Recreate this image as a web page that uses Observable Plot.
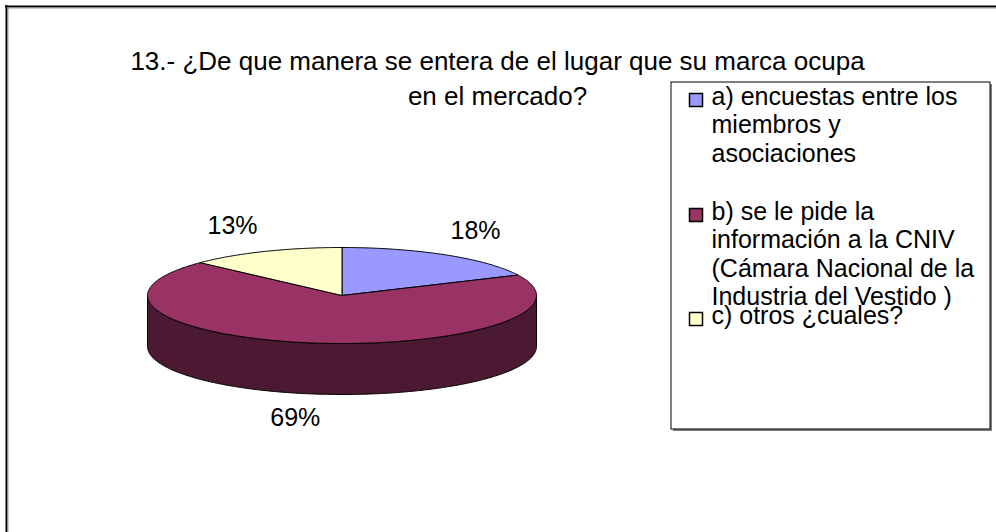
<!DOCTYPE html>
<html>
<head>
<meta charset="utf-8">
<script src="https://cdn.jsdelivr.net/npm/d3@7"></script>
<script src="https://cdn.jsdelivr.net/npm/@observablehq/plot@0.6"></script>
<style>
  html, body { margin: 0; padding: 0; background: #fff; }
</style>
</head>
<body>
<div id="chart"></div>
<script>
// ---- data ----
const titleLines = ["13.- ¿De que manera se entera de el lugar que su marca ocupa", "en el mercado?"];
const categories = ["a", "b", "c"];
const legendLabels = [
  "a) encuestas entre los\nmiembros y\nasociaciones",
  "b) se le pide la\ninformación a la CNIV\n(Cámara Nacional de la\nIndustria del Vestido )",
  "c) otros ¿cuales?"
];
const values = [18, 69, 13];
const valueLabels = ["18%", "69%", "13%"];
const topColors = ["#9999FF", "#993366", "#FFFFCC"];
const sideColors = ["#4D4D80", "#4B1932", "#808066"];

// ---- layout ----
const W = 996, H = 532;
const cx = 341.5, cy = 295, rx = 194.5, ry = 48, depth = 51;
const labRx = rx + 66, labRy = ry + 28, labDx = -6, labFrontDrop = 47;
const legendTops = [84, 199, 303];
const FONT = "'Liberation Sans', Arial, sans-serif";

const arcs = d3.pie().sort(null).value(d => d)(values);
const px = a => cx + rx * Math.sin(a);
const py = a => cy - ry * Math.cos(a);

function arcPoints(a0, a1, dy) {
  const n = Math.max(2, Math.ceil(Math.abs(a1 - a0) / 0.01));
  const pts = [];
  for (let k = 0; k <= n; k++) {
    const a = a0 + (a1 - a0) * k / n;
    pts.push({x: px(a), y: py(a) + dy});
  }
  return pts;
}

const marks = [];

// chart-area frame (top and left edges visible)
marks.push(Plot.ruleY([6], {x1: 5, x2: W, stroke: "#000", strokeWidth: 2}));
marks.push(Plot.ruleX([6], {y1: 5, y2: H, stroke: "#000", strokeWidth: 2}));
marks.push(Plot.ruleY([7.5], {x1: 7, x2: W, stroke: "#9a9a9a", strokeWidth: 1}));
marks.push(Plot.ruleX([7.5], {y1: 7, y2: H, stroke: "#9a9a9a", strokeWidth: 1}));

// side walls (front half: angles PI/2 .. 3PI/2)
arcs.forEach((s, i) => {
  const a0 = Math.max(s.startAngle, Math.PI / 2);
  const a1 = Math.min(s.endAngle, 3 * Math.PI / 2);
  if (a1 <= a0) return;
  const pts = arcPoints(a0, a1, 0).concat(arcPoints(a1, a0, depth));
  pts.push(pts[0]);
  marks.push(Plot.line(pts, {x: "x", y: "y", fill: sideColors[i], stroke: "#000", strokeWidth: 1, curve: "linear"}));
});

// top faces
arcs.forEach((s, i) => {
  const pts = [{x: cx, y: cy}].concat(arcPoints(s.startAngle, s.endAngle, 0));
  pts.push({x: cx, y: cy});
  marks.push(Plot.line(pts, {x: "x", y: "y", fill: topColors[i], stroke: "#000", strokeWidth: 1, curve: "linear"}));
});

// slice labels
const labelData = arcs.map((s, i) => {
  const m = (s.startAngle + s.endAngle) / 2;
  return {
    label: valueLabels[i],
    x: cx + labDx + labRx * Math.sin(m),
    y: cy - labRy * Math.cos(m) + (Math.cos(m) < 0 ? labFrontDrop : 0)
  };
});
marks.push(Plot.text(labelData, {x: "x", y: "y", text: "label", fontSize: 25, fill: "#000", textAnchor: "middle"}));

// title
marks.push(Plot.text([titleLines.join("\n")], {x: () => 497, y: () => 44.5, text: d => d, fontSize: 26, fill: "#000",
  textAnchor: "middle", lineAnchor: "top", lineHeight: 1.35}));

// legend box with shadow
marks.push(Plot.rect([0], {x1: 673, x2: 992, y1: 84, y2: 431, fill: "#808080"}));
marks.push(Plot.rect([0], {x1: 671, x2: 990, y1: 82, y2: 429, fill: "#fff", stroke: "#000", strokeWidth: 1}));

// legend swatches and labels
const legendData = categories.map((c, i) => ({cat: c, i, top: legendTops[i], text: legendLabels[i]}));
marks.push(Plot.rect(legendData, {x1: () => 689.5, x2: () => 702.5, y1: d => d.top + 9.5, y2: d => d.top + 22.5,
  fill: d => topColors[d.i], stroke: "#000", strokeWidth: 1.5}));
marks.push(Plot.text(legendData, {x: () => 711, y: "top", text: "text", fontSize: 25, fill: "#000",
  textAnchor: "start", lineAnchor: "top", lineHeight: 1.14}));

const chart = Plot.plot({
  width: W, height: H, margin: 0,
  x: {domain: [0, W], range: [0, W], axis: null},
  y: {domain: [0, H], range: [0, H], axis: null},
  style: {background: "#fff", fontFamily: FONT, overflow: "visible"},
  marks
});
document.getElementById("chart").appendChild(chart);
</script>
</body>
</html>
